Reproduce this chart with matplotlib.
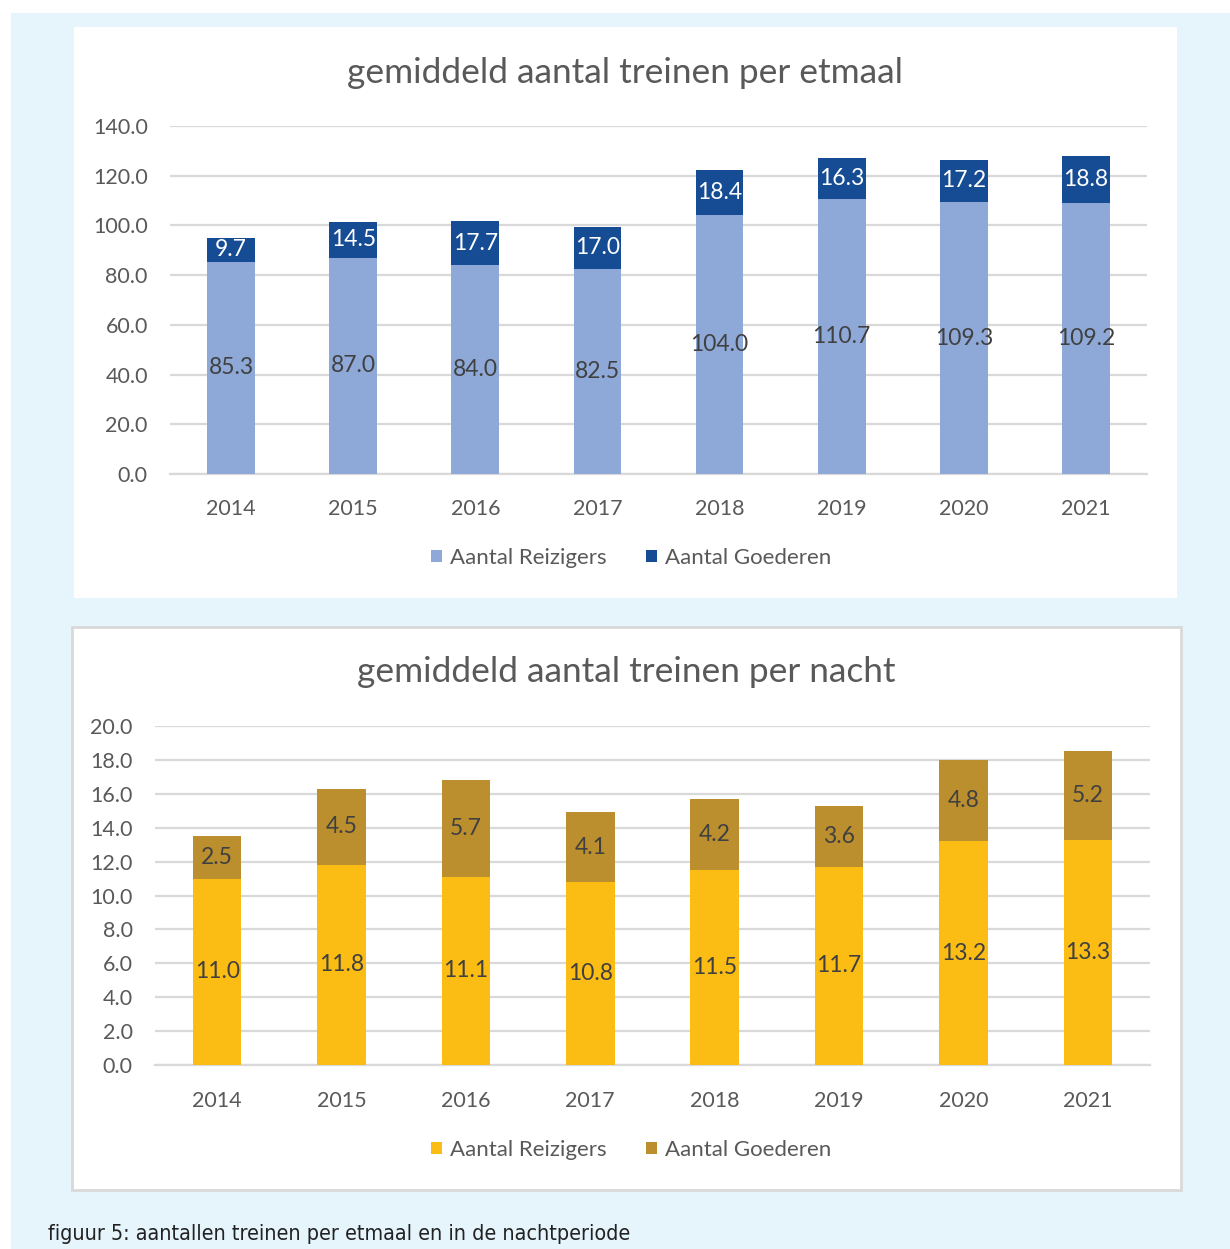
import matplotlib
matplotlib.use("Agg")
import matplotlib.pyplot as plt
from matplotlib.patches import Rectangle, Patch
import numpy as np

# Data
jaren = ["2014", "2015", "2016", "2017", "2018", "2019", "2020", "2021"]
etmaal_reizigers = [85.3, 87.0, 84.0, 82.5, 104.0, 110.7, 109.3, 109.2]
etmaal_goederen = [9.7, 14.5, 17.7, 17.0, 18.4, 16.3, 17.2, 18.8]
nacht_reizigers = [11.0, 11.8, 11.1, 10.8, 11.5, 11.7, 13.2, 13.3]
nacht_goederen = [2.5, 4.5, 5.7, 4.1, 4.2, 3.6, 4.8, 5.2]
series_namen = ["Aantal Reizigers", "Aantal Goederen"]
titel_etmaal = "gemiddeld aantal treinen per etmaal"
titel_nacht = "gemiddeld aantal treinen per nacht"
bijschrift = "figuur 5: aantallen treinen per etmaal en in de nachtperiode"

W, H = 1230, 1249
DPI = 100
FONT = "Lato"
GRIJS = "#595959"
DONKER = "#404040"
GRID = "#D9D9D9"

fig = plt.figure(figsize=(W / DPI, H / DPI), dpi=DPI)
fig.patch.set_facecolor("white")


def px_rect(x0, y0, x1, y1):
    return [x0 / W, 1 - y1 / H, (x1 - x0) / W, (y1 - y0) / H]


def add_box(x0, y0, x1, y1, **kw):
    fig.patches.append(Rectangle((x0 / W, 1 - y1 / H), (x1 - x0) / W, (y1 - y0) / H,
                                 transform=fig.transFigure, **kw))


# page background and chart panels
add_box(11, 13, W + 5, H + 5, facecolor="#E6F4FC", edgecolor="none", zorder=0)
add_box(74, 27, 1177, 598, facecolor="white", edgecolor="none", zorder=1)
add_box(72, 627, 1181, 1190, facecolor="white", edgecolor="#D9D9D9", linewidth=2, zorder=1)


def stacked(ax_rect, onder, boven, kleuren, labelkleuren, ymax, stap, titel, titel_xy,
            legend_xy, xpad):
    ax = fig.add_axes(px_rect(*ax_rect))
    ax.set_zorder(5)
    ax.set_facecolor("none")
    x = np.arange(len(jaren))
    ax.bar(x, onder, width=0.39, color=kleuren[0], zorder=3)
    ax.bar(x, boven, width=0.39, bottom=onder, color=kleuren[1], zorder=3)
    for i in range(len(jaren)):
        ax.text(x[i], onder[i] / 2, f"{onder[i]:.1f}", ha="center", va="center",
                fontsize=16.5, color=labelkleuren[0], family=FONT, zorder=4)
        ax.text(x[i], onder[i] + boven[i] / 2, f"{boven[i]:.1f}", ha="center", va="center",
                fontsize=16.5, color=labelkleuren[1], family=FONT, zorder=4)
    ax.set_xlim(-0.5, len(jaren) - 0.5)
    ax.set_ylim(0, ymax)
    ticks = np.arange(0, ymax + stap / 2, stap)
    ax.set_yticks(ticks)
    ax.set_yticklabels([f"{t:.1f}" for t in ticks])
    ax.set_xticks(x)
    ax.set_xticklabels(jaren)
    ax.grid(axis="y", color=GRID, linewidth=1.6, zorder=0)
    ax.set_axisbelow(True)
    for s in ["top", "right", "left"]:
        ax.spines[s].set_visible(False)
    ax.spines["bottom"].set_color(GRID)
    ax.spines["bottom"].set_linewidth(1.6)
    ax.tick_params(axis="both", length=0, labelsize=15.5, labelcolor=GRIJS)
    ax.tick_params(axis="y", pad=16)
    ax.tick_params(axis="x", pad=xpad)
    for lab in ax.get_xticklabels() + ax.get_yticklabels():
        lab.set_family(FONT)
    fig.text(titel_xy[0] / W, 1 - titel_xy[1] / H, titel, ha="center", va="center",
             fontsize=25.4, color=GRIJS, family=FONT, zorder=6)
    handles = [Patch(facecolor=kleuren[0]), Patch(facecolor=kleuren[1])]
    leg = fig.legend(handles, series_namen, loc="center",
                     bbox_to_anchor=(legend_xy[0] / W, 1 - legend_xy[1] / H),
                     ncol=2, frameon=False, handlelength=0.5, handleheight=0.5,
                     handletextpad=0.35, columnspacing=1.8,
                     prop={"family": FONT, "size": 16}, labelcolor=GRIJS)
    leg.set_zorder(6)
    return ax


stacked((170, 126, 1147, 474), etmaal_reizigers, etmaal_goederen,
        ["#8EA9D8", "#154C94"], [DONKER, "white"], 140, 20,
        titel_etmaal, (625, 73), (631, 558), 18)

stacked((155, 726, 1150, 1065), nacht_reizigers, nacht_goederen,
        ["#FBBC14", "#BB8F2E"], [DONKER, DONKER], 20, 2,
        titel_nacht, (626, 672), (631, 1150), 19)

fig.text(48 / W, 1 - 1234 / H, bijschrift, ha="left", va="center",
         fontsize=15.4, color="#222222", family="DejaVu Sans", fontstretch="condensed",
         zorder=6)

fig.savefig("out.png", dpi=DPI)
